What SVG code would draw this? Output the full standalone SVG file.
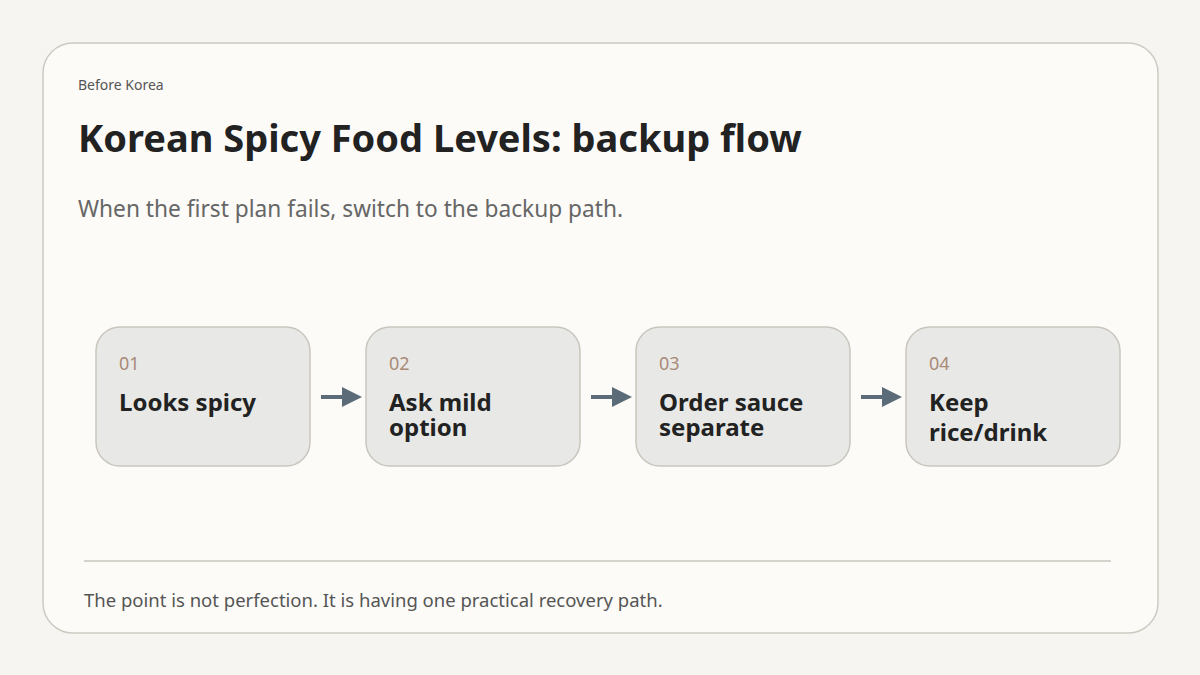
<svg xmlns="http://www.w3.org/2000/svg" width="1200" height="675" viewBox="0 0 1200 675">
<style>
text{font-family:"Noto Sans","Open Sans",sans-serif}
.node{fill:#e8e9e6;stroke:#c9c6bd;stroke-width:1.5}
.num{font-size:18px;fill:#a98a78}
.lbl{font-size:24px;font-weight:700;fill:#222}
.conn{stroke:#5b6b78;stroke-width:4}
</style>
<defs><marker id="ah" markerWidth="5" markerHeight="5" refX="4" refY="2.5" orient="auto"><path d="M0,0L5,2.5L0,5Z" fill="#5b6b78"/></marker></defs>
<rect width="1200" height="675" fill="#f6f5f1"/>
<rect x="43" y="43" width="1115" height="590" rx="30" fill="#fcfbf8" stroke="#cdcac2" stroke-width="1.5"/>
<text x="78" y="90" font-size="14" fill="#555">Before Korea</text>
<text x="78" y="152" font-size="38" font-weight="700" fill="#222">Korean Spicy Food Levels: backup flow</text>
<text x="78" y="217" font-size="22.7" fill="#666">When the first plan fails, switch to the backup path.</text>
<g id="n1"><rect class="node" x="96" y="327" width="214" height="139" rx="24"/><text class="num" x="119" y="370">01</text><text class="lbl" x="119" y="411">Looks spicy</text></g>
<g id="n2"><rect class="node" x="366" y="327" width="214" height="139" rx="24"/><text class="num" x="389" y="370">02</text><text class="lbl" x="389" y="411">Ask mild</text><text class="lbl" x="389" y="436">option</text></g>
<g id="n3"><rect class="node" x="636" y="327" width="214" height="139" rx="24"/><text class="num" x="659" y="370">03</text><text class="lbl" x="659" y="411">Order sauce</text><text class="lbl" x="659" y="436">separate</text></g>
<g id="n4"><rect class="node" x="906" y="327" width="214" height="139" rx="24"/><text class="num" x="929" y="370">04</text><text class="lbl" x="929" y="411">Keep</text><text class="lbl" x="929" y="441">rice/drink</text></g>
<g id="connectors">
<line class="conn" x1="321" y1="397" x2="358" y2="397" marker-end="url(#ah)"/>
<line class="conn" x1="591" y1="397" x2="628" y2="397" marker-end="url(#ah)"/>
<line class="conn" x1="861" y1="397" x2="898" y2="397" marker-end="url(#ah)"/>
</g>
<line x1="84" y1="561" x2="1111" y2="561" stroke="#c9c6bd" stroke-width="1.5"/>
<text x="84" y="607" font-size="18.5" fill="#555">The point is not perfection. It is having one practical recovery path.</text>
</svg>
